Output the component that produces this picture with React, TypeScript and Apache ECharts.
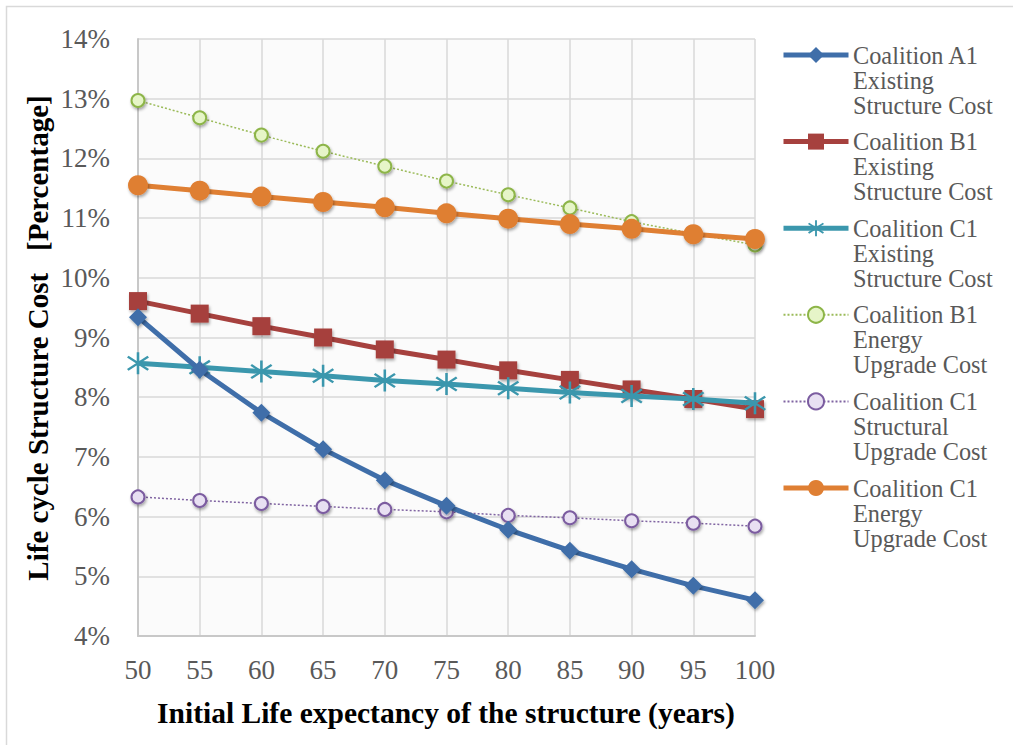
import React, { useEffect, useRef } from "react";
import * as echarts from "echarts";

const years = [50, 55, 60, 65, 70, 75, 80, 85, 90, 95, 100];
const a1Existing = [9.34, 8.46, 7.74, 7.13, 6.61, 6.18, 5.78, 5.43, 5.12, 4.84, 4.6];
const b1Existing = [9.61, 9.4, 9.19, 9.0, 8.8, 8.63, 8.45, 8.29, 8.13, 7.97, 7.8];
const c1Existing = [8.57, 8.5, 8.43, 8.36, 8.28, 8.22, 8.15, 8.08, 8.02, 7.97, 7.9];
const b1Energy = [12.97, 12.68, 12.39, 12.12, 11.87, 11.62, 11.39, 11.17, 10.94, 10.74, 10.55];
const c1Structural = [6.33, 6.27, 6.22, 6.17, 6.12, 6.08, 6.02, 5.98, 5.93, 5.89, 5.84];
const c1Energy = [11.55, 11.46, 11.36, 11.27, 11.18, 11.08, 10.99, 10.9, 10.82, 10.73, 10.65];
const seriesNames = [
  "Coalition A1\nExisting\nStructure Cost",
  "Coalition B1\nExisting\nStructure Cost",
  "Coalition C1\nExisting\nStructure Cost",
  "Coalition B1\nEnergy\nUpgrade Cost",
  "Coalition C1\nStructural\nUpgrade Cost",
  "Coalition C1\nEnergy\nUpgrade Cost",
];
const xTitle = "Initial Life expectancy of the structure (years)";
const yTitle = "Life cycle Structure Cost   [Percentage]";

const asterisk =
  "path://M9,0 L11,0 L11,20 L9,20 Z M1.4,4.8 L2.6,3.2 L18.6,15.2 L17.4,16.8 Z M2.6,16.8 L1.4,15.2 L17.4,3.2 L18.6,4.8 Z";

const FONT = "'Liberation Serif', 'Times New Roman', serif";

const pairs = (vals: number[]) => years.map((y, i) => [y, vals[i]]);

export default function App() {
  const ref = useRef<HTMLDivElement>(null);
  useEffect(() => {
    if (!ref.current) return;
    const chart = echarts.init(ref.current, undefined, { renderer: "svg" });
    const shadow = {
      shadowColor: "rgba(0,0,0,0.35)",
      shadowBlur: 3,
      shadowOffsetX: 1,
      shadowOffsetY: 2,
    };
    const thick = { width: 5 };
    const LEG_TOP = 55;
    const LEG_STEP = 86.6;
    const LINE_H = 25;
    const legendTexts: any[] = [];
    seriesNames.forEach((name, i) => {
      name.split("\n").forEach((line, j) => {
        legendTexts.push({
          type: "text",
          x: 853,
          y: LEG_TOP + i * LEG_STEP + j * LINE_H,
          scaleX: 0.9,
          scaleY: 0.9,
          style: {
            text: line,
            fontFamily: FONT,
            fontSize: 27,
            fill: "#595959",
            align: "left",
            verticalAlign: "middle",
          },
        });
      });
    });
    chart.setOption({
      animation: false,
      backgroundColor: "#ffffff",
      textStyle: { fontFamily: FONT },
      grid: {
        left: 138,
        top: 39,
        width: 617,
        height: 597,
        show: true,
        backgroundColor: "#fbfbfb",
        borderWidth: 0,
      },
      xAxis: {
        type: "value",
        min: 50,
        max: 100,
        interval: 5,
        axisLine: { show: true, lineStyle: { color: "#c8c8c8", width: 2 } },
        axisTick: { show: false },
        splitLine: { show: true, lineStyle: { color: "#d9d9d9", width: 1.5 } },
        axisLabel: {
          fontFamily: FONT,
          fontSize: 27,
          color: "#595959",
          margin: 20,
        },
      },
      yAxis: {
        type: "value",
        min: 4,
        max: 14,
        interval: 1,
        axisLine: { show: true, lineStyle: { color: "#c8c8c8", width: 2 } },
        axisTick: { show: false },
        splitLine: { show: true, lineStyle: { color: "#d9d9d9", width: 1.5 } },
        axisLabel: {
          fontFamily: FONT,
          fontSize: 27,
          color: "#595959",
          margin: 28,
          formatter: (v: number) => `${v}%`,
        },
      },
      legend: {
        orient: "vertical",
        left: 781,
        top: LEG_TOP - 62.5,
        padding: 0,
        itemGap: LEG_STEP - 125,
        itemWidth: 65,
        itemHeight: 20,
        formatter: () => "{e| }\n{e| }\n{e| }\n{e| }\n{e| }",
        textStyle: {
          fontSize: 24,
          lineHeight: 25,
          rich: { e: { fontSize: 24, lineHeight: 25 } },
        },
        data: [
          { name: seriesNames[0], lineStyle: thick },
          { name: seriesNames[1], lineStyle: thick },
          { name: seriesNames[2], lineStyle: thick },
          { name: seriesNames[3] },
          { name: seriesNames[4] },
          { name: seriesNames[5], lineStyle: thick },
        ],
      },
      graphic: [
        {
          type: "rect",
          shape: { x: 6.5, y: 6.5, width: 1100, height: 800 },
          style: { fill: "none", stroke: "#d9d9d9", lineWidth: 1.5 },
          silent: true,
        },
        ...legendTexts,
        {
          type: "text",
          x: 446,
          y: 713,
          style: {
            text: xTitle,
            fontFamily: FONT,
            fontSize: 29.5,
            fontWeight: "bold",
            fill: "#000000",
            align: "center",
            verticalAlign: "middle",
          },
        },
        {
          type: "text",
          x: 38,
          y: 338,
          rotation: Math.PI / 2,
          style: {
            text: yTitle,
            fontFamily: FONT,
            fontSize: 29,
            fontWeight: "bold",
            fill: "#000000",
            align: "center",
            verticalAlign: "middle",
          },
        },
      ],
      series: [
        {
          name: seriesNames[0],
          type: "line",
          data: pairs(a1Existing),
          symbol: "diamond",
          symbolSize: 18,
          lineStyle: { color: "#3f6ea9", width: 5 },
          itemStyle: { color: "#3f6ea9", ...shadow },
          z: 6,
        },
        {
          name: seriesNames[1],
          type: "line",
          data: pairs(b1Existing),
          symbol: "rect",
          symbolSize: 18,
          lineStyle: { color: "#a6413e", width: 5 },
          itemStyle: { color: "#a6413e", ...shadow },
          z: 4,
        },
        {
          name: seriesNames[2],
          type: "line",
          data: pairs(c1Existing),
          symbol: asterisk,
          symbolSize: 22,
          lineStyle: { color: "#3b97ad", width: 5 },
          itemStyle: { color: "#3b97ad" },
          z: 5,
        },
        {
          name: seriesNames[3],
          type: "line",
          data: pairs(b1Energy),
          symbol: "circle",
          symbolSize: 13,
          lineStyle: { color: "#9bbb59", width: 1.5, type: [2, 2] },
          itemStyle: {
            color: "#e6f5c8",
            borderColor: "#8db548",
            borderWidth: 2,
            ...shadow,
          },
          z: 3,
        },
        {
          name: seriesNames[4],
          type: "line",
          data: pairs(c1Structural),
          symbol: "circle",
          symbolSize: 13,
          lineStyle: { color: "#8064a2", width: 1.5, type: [2, 2] },
          itemStyle: {
            color: "#e8e0f2",
            borderColor: "#7b5ca0",
            borderWidth: 2,
            ...shadow,
          },
          z: 3,
        },
        {
          name: seriesNames[5],
          type: "line",
          data: pairs(c1Energy),
          symbol: "circle",
          symbolSize: 20,
          lineStyle: { color: "#df7f33", width: 5 },
          itemStyle: { color: "#df7f33", ...shadow },
          z: 4,
        },
      ],
    });
    return () => chart.dispose();
  }, []);
  return (
    <div
      ref={ref}
      style={{ position: "fixed", left: 0, top: 0, width: 1013, height: 745 }}
    />
  );
}
